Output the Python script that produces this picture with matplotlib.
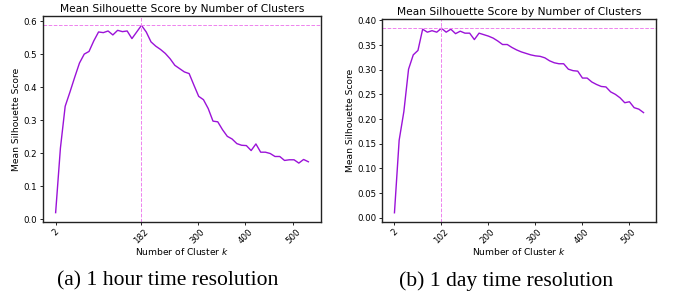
import numpy as np
import matplotlib
matplotlib.use('Agg')
import matplotlib.pyplot as plt

# number of clusters tried (same grid for both runs)
k_values = list(range(2, 533, 10))

# mean silhouette score, 1 hour resolution
score_hour = [0.020, 0.215, 0.342, 0.385, 0.430, 0.473, 0.500, 0.508, 0.540, 0.567,
              0.565, 0.570, 0.558, 0.572, 0.568, 0.570, 0.547, 0.567, 0.587, 0.567,
              0.537, 0.524, 0.514, 0.502, 0.486, 0.466, 0.456, 0.446, 0.441, 0.406,
              0.372, 0.362, 0.335, 0.297, 0.295, 0.271, 0.251, 0.243, 0.229, 0.224,
              0.223, 0.208, 0.228, 0.203, 0.203, 0.199, 0.190, 0.190, 0.178, 0.180,
              0.180, 0.170, 0.181, 0.174]

# mean silhouette score, 1 day resolution
score_day = [0.010, 0.157, 0.215, 0.301, 0.330, 0.339, 0.382, 0.376, 0.379, 0.376,
             0.384, 0.376, 0.382, 0.373, 0.378, 0.374, 0.374, 0.361, 0.374, 0.371,
             0.368, 0.364, 0.358, 0.351, 0.351, 0.345, 0.340, 0.336, 0.333, 0.330,
             0.328, 0.327, 0.324, 0.318, 0.314, 0.312, 0.312, 0.301, 0.298, 0.297,
             0.283, 0.283, 0.275, 0.270, 0.266, 0.265, 0.255, 0.250, 0.243, 0.233,
             0.235, 0.223, 0.220, 0.213]

xticks_hour = [2, 182, 300, 400, 500]
xticks_day = [2, 102, 200, 300, 400, 500]
yticks_hour = [0.0, 0.1, 0.2, 0.3, 0.4, 0.5, 0.6]
yticks_day = [0.00, 0.05, 0.10, 0.15, 0.20, 0.25, 0.30, 0.35, 0.40]

captions = ['(a) 1 hour time resolution', '(b) 1 day time resolution']

line_color = '#9b12d8'
mark_color = '#ee82ee'
fs_tick = 6.2
fs_label = 6.6
fs_title = 7.7


def draw_panel(ax, k, score, xticks, yticks, yfmt):
    ax.plot(k, score, color=line_color, lw=1.0)
    best = int(np.argmax(score))
    ax.axvline(k[best], color=mark_color, ls='--', lw=0.7)
    ax.axhline(score[best], color=mark_color, ls='--', lw=0.7)
    ax.set_xticks(xticks)
    ax.set_xticklabels([str(t) for t in xticks], rotation=45, fontsize=fs_tick)
    ax.set_yticks(yticks)
    ax.set_yticklabels([yfmt.format(t) for t in yticks], fontsize=fs_tick)
    ax.tick_params(length=2.5, width=0.6, pad=1.5)
    ax.set_xlabel('Number of Cluster $k$', fontsize=fs_label, labelpad=0)
    ax.set_ylabel('Mean Silhouette Score', fontsize=fs_label, labelpad=2)
    ax.set_title('Mean Silhouette Score by Number of Clusters', fontsize=fs_title, pad=3)
    for s in ax.spines.values():
        s.set_linewidth(1.0)
        s.set_color('#222222')


fig = plt.figure(figsize=(6.73, 2.97), dpi=100)
W, H = 673.0, 297.0
ax1 = fig.add_axes([43 / W, 1 - 222 / H, (321 - 43) / W, (222 - 16) / H])
ax2 = fig.add_axes([382 / W, 1 - 222 / H, (656 - 382) / W, (222 - 19) / H])

draw_panel(ax1, k_values, score_hour, xticks_hour, yticks_hour, '{:.1f}')
draw_panel(ax2, k_values, score_day, xticks_day, yticks_day, '{:.2f}')

fig.text(168 / W, 1 - 281 / H, captions[0], ha='center', va='center',
         family='Liberation Serif', fontsize=15.6)
fig.text(506 / W, 1 - 281 / H, captions[1], ha='center', va='center',
         family='Liberation Serif', fontsize=15.6)

fig.savefig('out.png', dpi=100)
